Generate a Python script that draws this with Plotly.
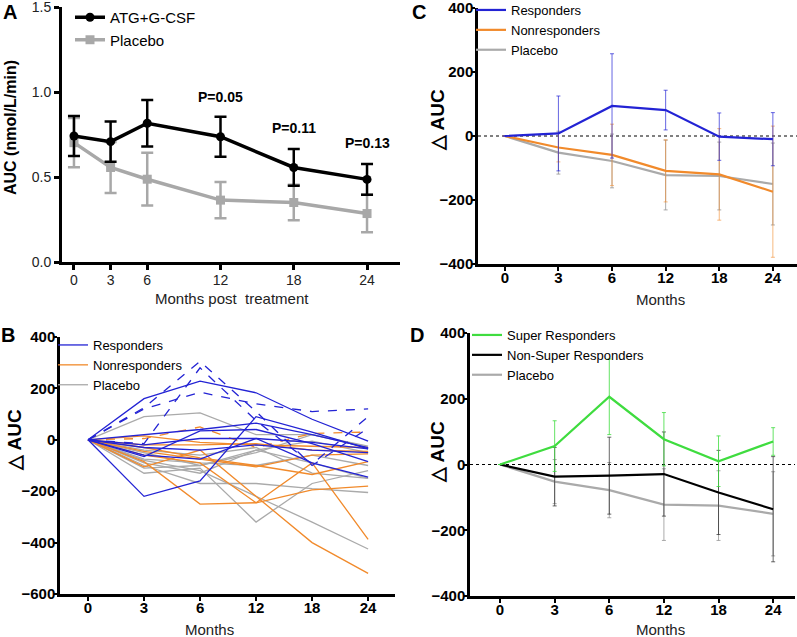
import plotly.graph_objects as go

W, H = 797, 637
FONT = "Arial, Liberation Sans, sans-serif"

# ---------------- Data ----------------
# Panel A
months_a = [0, 3, 6, 12, 18, 24]
atg_auc = [0.741, 0.708, 0.816, 0.737, 0.556, 0.486]
atg_err = [0.118, 0.118, 0.137, 0.118, 0.108, 0.090]
plc_auc = [0.702, 0.556, 0.487, 0.364, 0.350, 0.285]
plc_err = [0.145, 0.150, 0.155, 0.106, 0.105, 0.110]
p_labels = ["P=0.05", "P=0.11", "P=0.13"]
p_months = [12, 18, 24]
p_heights = [0.973, 0.79, 0.70]

# Panels B-D categories
month_cats = ["0", "3", "6", "12", "18", "24"]

# Panel B individual trajectories (delta AUC)
resp_solid = [
    [0, 160, 228, 183, 80, -5],
    [0, -220, -160, 90, 30, -35],
    [0, -65, 35, 40, -15, -85],
    [0, 20, 40, 65, 20, -30],
    [0, -20, 5, 5, -10, -35],
    [0, -60, -75, 5, -90, -145],
    [0, -30, -40, -20, -40, -50],
]
resp_dashed = [
    [0, 125, 305, 110, -100, 45],
    [0, -15, 280, 75, -95, 90],
    [0, 120, 185, 140, 110, 120],
]
nonresp_solid = [
    [0, -105, -40, -220, -400, -520],
    [0, -85, -250, -245, -195, -180],
    [0, -60, -90, -245, -90, -387],
    [0, -30, -70, -100, -135, -85],
    [0, 15, -10, -20, -25, -30],
    [0, -20, -20, -15, -40, -45],
    [0, -45, -75, -105, -60, -55],
]
nonresp_dashed = [
    [0, 5, 50, -30, 25, 30],
]
placebo_indiv = [
    [0, 90, 105, 20, 20, -30],
    [0, -130, -110, -320, -170, -120],
    [0, -80, -120, -220, -320, -425],
    [0, -100, -170, -170, -190, -205],
    [0, -75, -90, -100, -60, -100],
    [0, -50, -100, -40, -90, -150],
    [0, -90, -130, -40, -5, -50],
    [0, -40, -60, -30, -130, -150],
    [0, -110, -100, -50, 20, -25],
]

# Panel C means
resp_mean = [0, 8, 94, 81, -2, -10]
resp_sd = [0, 117, 163, 62, 74, 83]
nonresp_mean = [0, -36, -59, -109, -120, -174]
nonresp_sd = [0, 45, 96, 97, 143, 205]
placebo_mean = [0, -52, -78, -122, -125, -150]
placebo_sd = [0, 67, 84, 109, 106, 128]

# Panel D means
super_mean = [0, 56, 206, 77, 10, 70]
super_sd = [0, 77, 115, 81, 77, 42]
nonsuper_mean = [0, -37, -34, -29, -85, -136]
nonsuper_sd = [0, 89, 117, 128, 128, 160]

BLUE = "#2323d4"
ORANGE = "#f18a2b"
GRAY = "#aaaaaa"
GREEN = "#3fdc3f"
GRAY_A = "#a8a8a8"

def fx(px):
    return px / W

def fy(py):
    return 1 - py / H

fig = go.Figure()

# ---------------- Panel A ----------------
fig.add_trace(go.Scatter(
    x=months_a, y=plc_auc, mode="lines+markers", name="Placebo",
    line=dict(color=GRAY_A, width=3.5),
    marker=dict(symbol="square", size=9, color=GRAY_A),
    error_y=dict(type="data", array=plc_err, color=GRAY_A, thickness=2.5, width=6),
    xaxis="x", yaxis="y", legend="legend", legendrank=2,
))
fig.add_trace(go.Scatter(
    x=months_a, y=atg_auc, mode="lines+markers", name="ATG+G-CSF",
    line=dict(color="black", width=3.5),
    marker=dict(symbol="circle", size=9, color="black"),
    error_y=dict(type="data", array=atg_err, color="black", thickness=2.5, width=6),
    xaxis="x", yaxis="y", legend="legend", legendrank=1,
))

# ---------------- Panel B ----------------
def add_group(rows, color, dash, name, show, rank):
    for i, r in enumerate(rows):
        fig.add_trace(go.Scatter(
            x=month_cats, y=r, mode="lines",
            line=dict(color=color, width=1.3, dash=dash),
            name=name, legendgroup=name, showlegend=(show and i == 0),
            xaxis="x3", yaxis="y3", legend="legend3", legendrank=rank,
            hoverinfo="skip",
        ))

add_group(placebo_indiv, GRAY, "solid", "Placebo", True, 3)
add_group(nonresp_solid, ORANGE, "solid", "Nonresponders", True, 2)
add_group(nonresp_dashed, ORANGE, "dash", "Nonresponders", False, 2)
add_group(resp_solid, BLUE, "solid", "Responders", True, 1)
add_group(resp_dashed, BLUE, "dash", "Responders", False, 1)

# ---------------- Panel C ----------------
def add_mean(y, sd, color, ecolor, name, ax, leg, rank):
    fig.add_trace(go.Scatter(
        x=month_cats, y=y, mode="lines", name=name,
        line=dict(color=color, width=2.2),
        error_y=dict(type="data", array=sd, color=ecolor, thickness=1, width=2),
        xaxis="x" + ax, yaxis="y" + ax, legend=leg, legendrank=rank,
    ))

add_mean(placebo_mean, placebo_sd, GRAY, "rgba(150,150,150,0.8)", "Placebo", "2", "legend2", 3)
add_mean(nonresp_mean, nonresp_sd, ORANGE, "rgba(241,138,43,0.6)", "Nonresponders", "2", "legend2", 2)
add_mean(resp_mean, resp_sd, BLUE, "rgba(35,35,212,0.7)", "Responders", "2", "legend2", 1)

# ---------------- Panel D ----------------
add_mean(placebo_mean, placebo_sd, GRAY, "rgba(150,150,150,0.8)", "Placebo", "4", "legend4", 3)
add_mean(nonsuper_mean, nonsuper_sd, "black", "rgba(40,40,40,0.7)", "Non-Super Responders", "4", "legend4", 2)
add_mean(super_mean, super_sd, GREEN, "rgba(63,220,63,0.8)", "Super Responders", "4", "legend4", 1)

# ---------------- Axes ----------------
def xcat(dom, rng, anchor):
    return dict(domain=[fx(dom[0]), fx(dom[1])], range=rng, type="category",
                categoryorder="array", categoryarray=month_cats,
                showline=True, linewidth=2.5, linecolor="black",
                ticks="outside", ticklen=4, tickwidth=2, tickcolor="black",
                ticklabelstandoff=-6,
                tickfont=dict(family=FONT, size=15, color="black", weight="bold"),
                showgrid=False, zeroline=False, anchor=anchor, fixedrange=True,
                automargin=False, ticklabeloverflow="allow")

def ydelta(dom, rng, anchor):
    return dict(domain=[fy(dom[1]), fy(dom[0])], range=rng, dtick=200,
                showline=True, linewidth=2.5, linecolor="black",
                ticks="outside", ticklen=3, tickwidth=2, tickcolor="black",
                ticklabelstandoff=-4,
                tickfont=dict(family=FONT, size=15, color="black", weight="bold"),
                showgrid=False, zeroline=False, anchor=anchor, fixedrange=True,
                automargin=False, ticklabeloverflow="allow")

legfont = dict(family=FONT, size=13, color="black")
layout = dict(
    width=W, height=H, margin=dict(l=0, r=0, t=0, b=0, autoexpand=False),
    paper_bgcolor="white", plot_bgcolor="white",
    font=dict(family=FONT, color="black"),
    xaxis=dict(domain=[fx(62), fx(400)], range=[-0.98, 26.7],
               tickvals=months_a, showline=True, linewidth=3, linecolor="black",
               ticks="outside", ticklen=5, tickwidth=2.5, tickcolor="black",
               ticklabelstandoff=-2,
               tickfont=dict(family=FONT, size=14, color="#222"),
               showgrid=False, zeroline=False, anchor="y", automargin=False,
               ticklabeloverflow="allow"),
    yaxis=dict(domain=[fy(262), fy(7)], range=[0, 1.5],
               tickvals=[0, 0.5, 1.0, 1.5], ticktext=["0.0", "0.5", "1.0", "1.5"],
               showline=True, linewidth=3, linecolor="black",
               ticks="outside", ticklen=5, tickwidth=2.5, tickcolor="black",
               tickfont=dict(family=FONT, size=14, color="#222"),
               showgrid=False, zeroline=False, anchor="x", automargin=False,
               ticklabeloverflow="allow"),
    xaxis2=xcat([478, 797], [-0.5, 5.45], "y2"),
    yaxis2=ydelta([8, 264], [-400, 400], "x2"),
    xaxis3=xcat([60, 395], [-0.5, 5.48], "y3"),
    yaxis3=ydelta([337, 594], [-600, 400], "x3"),
    xaxis4=xcat([470, 795], [-0.55, 5.4], "y4"),
    yaxis4=ydelta([333, 596], [-400, 400], "x4"),
    legend=dict(x=fx(70), y=fy(1), xanchor="left", yanchor="top",
                bgcolor="rgba(0,0,0,0)", font=dict(family=FONT, size=15, color="black"),
                traceorder="normal"),
    legend2=dict(x=fx(471), y=fy(-5), xanchor="left", yanchor="top", tracegroupgap=0,
                 bgcolor="rgba(0,0,0,0)", font=legfont),
    legend3=dict(x=fx(53), y=fy(330), xanchor="left", yanchor="top", tracegroupgap=0,
                 bgcolor="rgba(0,0,0,0)", font=legfont),
    legend4=dict(x=fx(467), y=fy(320), xanchor="left", yanchor="top", tracegroupgap=0,
                 bgcolor="rgba(0,0,0,0)", font=legfont),
    showlegend=True,
)
fig.update_layout(**layout)

# Zero reference lines for C and D
for ax in ["2", "4"]:
    fig.add_shape(type="line", xref="x" + ax + " domain", yref="y" + ax,
                  x0=0, x1=1, y0=0, y1=0,
                  line=dict(color="black", width=1, dash="dot"), layer="below")

# ---------------- Annotations ----------------
def note(text, x, y, size, bold=False, angle=0, color="black"):
    f = dict(family=FONT, size=size, color=color)
    if bold:
        f["weight"] = "bold"
    return dict(text=text, x=fx(x), y=fy(y), xref="paper", yref="paper",
                xanchor="center", yanchor="middle", textangle=angle,
                showarrow=False, font=f)

ann = []
for txt, x, y in [("A", 10, 12), ("B", 8, 335), ("C", 419, 12), ("D", 417, 335)]:
    ann.append(note(txt, x, y, 20, bold=True))
for t, m, h in zip(p_labels, p_months, p_heights):
    ann.append(dict(text=t, x=m, y=h, xref="x", yref="y", showarrow=False,
                    xanchor="center", yanchor="middle",
                    font=dict(family=FONT, size=14, color="black", weight="bold")))
ann.append(note("AUC (nmol/L/min)", 11, 128, 16, bold=True, angle=-90))
ann.append(note("Months post  treatment", 232, 298, 15, color="#222"))
for x, y in [(209, 629), (660, 299), (660, 629)]:
    ann.append(note("Months", x, y, 15, color="#222"))
for x, y in [(14, 440), (437, 120), (437, 452)]:
    ann.append(note("△ AUC", x, y, 19, bold=True, angle=-90))
fig.update_layout(annotations=ann)

fig.write_html(
    "out.html",
    config={"displayModeBar": False},
    post_script="document.body.style.margin='0';document.body.style.padding='0';window.dispatchEvent(new Event('resize'));",
)
